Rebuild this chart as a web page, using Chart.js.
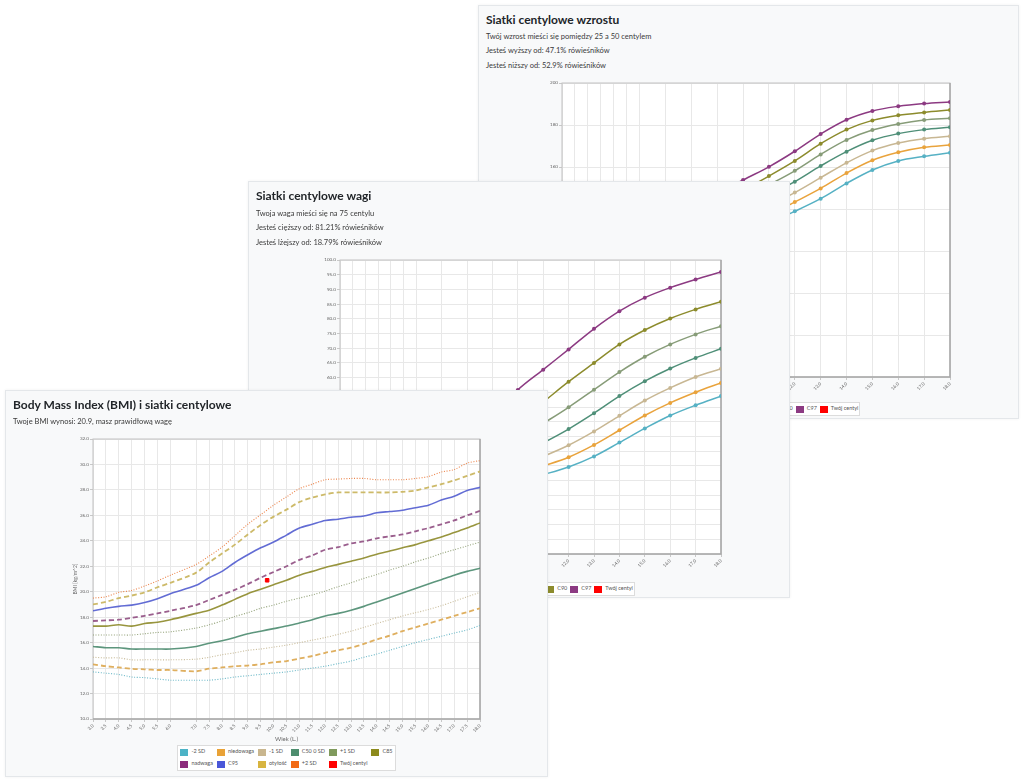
<!DOCTYPE html>
<html lang="pl">
<head>
<meta charset="utf-8">
<title>Siatki centylowe</title>
<script src="https://cdn.jsdelivr.net/npm/chart.js@4.4.1/dist/chart.umd.min.js"></script>
<style>
  body { margin: 0; background: #fff; font-family: Lato, "Liberation Sans", sans-serif; color: #212529; }
  #page { position: relative; width: 1024px; height: 780px; overflow: hidden; }
  .card { position: absolute; background: #f8f9fa; border: 1px solid #e4e7ea; box-shadow: 0 0 3px rgba(0,0,0,0.06); box-sizing: border-box; }
  .card h3 { position: absolute; left: 7px; top: 6px; margin: 0; font-size: 12px; font-weight: 700; line-height: 15px; white-space: nowrap; }
  .card p { position: absolute; left: 7px; margin: 0; font-size: 7.5px; line-height: 10px; color: #3a3a3a; white-space: nowrap; }
  .card canvas { position: absolute; }
  .legend { position: absolute; line-height: 0; }
  .legend table { margin: 0 auto; border-collapse: collapse; background: #fff; border: 1px solid #dcdcdc; font-size: 5.5px; line-height: 7px; color: #555; }
  .legend td { height: 12px; padding: 0 2px 0 2px; white-space: nowrap; text-align: left; vertical-align: middle; }
  .legend .sw { display: inline-block; width: 8px; height: 7px; margin-right: 3px; vertical-align: middle; }
  .legend.row td { padding: 0 1px 0 2px; }
</style>
</head>
<body>
<div id="page">
  <div class="card" style="left:478px;top:5px;width:541px;height:414px;z-index:1">
    <h3>Siatki centylowe wzrostu</h3>
    <p style="top:26px">Twój wzrost mieści się pomiędzy 25 a 50 centylem</p>
    <p style="top:40px">Jesteś wyższy od: 47.1% rówieśników</p>
    <p style="top:55px">Jesteś niższy od: 52.9% rówieśników</p>
    <canvas id="chartH"></canvas>
    <div class="legend row" id="legendH"></div>
  </div>
  <div class="card" style="left:248px;top:181px;width:542px;height:417px;z-index:2">
    <h3>Siatki centylowe wagi</h3>
    <p style="top:27px">Twoja waga mieści się na 75 centylu</p>
    <p style="top:41px">Jesteś cięższy od: 81.21% rówieśników</p>
    <p style="top:56px">Jesteś lżejszy od: 18.79% rówieśników</p>
    <canvas id="chartW"></canvas>
    <div class="legend row" id="legendW"></div>
  </div>
  <div class="card" style="left:5px;top:390px;width:543px;height:387px;z-index:3">
    <h3>Body Mass Index (BMI) i siatki centylowe</h3>
    <p style="top:26px">Twoje BMI wynosi: 20.9, masz prawidłową wagę</p>
    <canvas id="chartB"></canvas>
    <div class="legend" id="legendB"></div>
  </div>
</div>
<script>
// ages (years)
const agesBmi = [3,3.5,4,4.5,5,5.5,6,7,7.5,8,8.5,9,9.5,10,10.5,11,11.5,12,12.5,13,13.5,14,14.5,15,15.5,16,16.5,17,17.5,18];
const agesGrowth = [3,3.5,4,4.5,5,5.5,6,7,8,9,10,11,12,13,14,15,16,17,18];

// BMI [kg/m^2]
const bmiMinus2 = [13.7,13.6,13.5,13.3,13.25,13.15,13.05,13.05,13.05,13.15,13.3,13.4,13.5,13.6,13.7,13.85,14.0,14.15,14.35,14.55,14.85,15.1,15.4,15.7,16.0,16.25,16.5,16.75,17.0,17.35];
const bmiUnder = [14.3,14.15,14.05,13.95,13.9,13.85,13.85,13.75,13.95,14.05,14.15,14.2,14.3,14.45,14.55,14.75,14.95,15.2,15.4,15.6,15.9,16.25,16.55,16.9,17.2,17.5,17.8,18.1,18.4,18.7];
const bmiMinus1 = [14.85,14.8,14.8,14.65,14.65,14.65,14.65,14.7,14.85,15.05,15.2,15.4,15.5,15.65,15.8,16.0,16.2,16.4,16.65,16.9,17.2,17.5,17.8,18.1,18.35,18.6,18.9,19.25,19.6,19.95];
const bmiC50 = [15.7,15.6,15.6,15.5,15.5,15.5,15.5,15.7,15.95,16.15,16.4,16.7,16.9,17.1,17.3,17.55,17.8,18.1,18.3,18.55,18.85,19.2,19.55,19.9,20.25,20.6,20.95,21.3,21.6,21.85];
const bmiPlus1 = [16.6,16.6,16.6,16.6,16.7,16.8,16.85,17.15,17.4,17.7,18.05,18.35,18.7,18.95,19.25,19.5,19.75,20.05,20.4,20.7,21.05,21.35,21.7,22.0,22.35,22.65,23.0,23.3,23.6,23.9];
const bmiC85 = [17.3,17.3,17.4,17.3,17.5,17.6,17.8,18.3,18.55,18.95,19.4,19.85,20.2,20.55,20.9,21.3,21.6,21.9,22.15,22.4,22.65,22.95,23.2,23.45,23.7,24.0,24.3,24.65,25.0,25.4];
const bmiOver = [17.7,17.75,17.8,17.95,18.1,18.3,18.5,18.95,19.35,19.75,20.15,20.6,21.1,21.55,22.0,22.5,22.85,23.3,23.5,23.8,23.95,24.2,24.35,24.5,24.75,25.0,25.3,25.6,26.0,26.35];
const bmiC95 = [18.5,18.7,18.85,18.95,19.15,19.45,19.85,20.5,21.1,21.6,22.3,22.9,23.45,23.9,24.45,25.0,25.3,25.6,25.7,25.85,25.95,26.2,26.3,26.4,26.6,26.8,27.2,27.5,27.95,28.2];
const bmiObese = [19.0,19.2,19.5,19.7,19.95,20.35,20.7,21.5,22.3,23.0,23.7,24.5,25.25,25.9,26.45,27.05,27.4,27.65,27.8,27.8,27.8,27.8,27.8,27.85,27.95,28.2,28.45,28.75,29.1,29.45];
const bmiPlus2 = [19.5,19.6,19.95,20.1,20.45,20.85,21.3,22.15,22.8,23.5,24.4,25.3,26.05,26.8,27.45,28.1,28.45,28.8,28.85,28.9,28.9,28.8,28.8,28.8,28.9,29.05,29.4,29.6,30.1,30.3];
const bmiUser = [{ x: 9.75, y: 20.9 }];

// weight [kg]
const wC3 = [11.9,12.7,13.4,14.2,15.0,15.8,16.7,18.5,20.4,22.5,24.7,27.0,29.6,33.2,37.9,42.7,47.1,50.6,53.7];
const wC10 = [12.7,13.5,14.3,15.1,16.0,16.9,17.9,19.9,22.1,24.5,27.1,29.9,32.9,37.1,42.1,47.1,51.4,55.0,58.2];
const wC25 = [13.5,14.4,15.3,16.2,17.2,18.2,19.2,21.5,24.0,26.8,29.8,33.2,37.0,41.7,47.0,52.2,56.5,60.2,63.0];
const wC50 = [14.5,15.4,16.4,17.4,18.5,19.6,20.8,23.4,26.4,29.8,33.5,37.8,42.5,47.9,53.7,58.8,63.1,66.7,69.8];
const wC75 = [15.7,16.8,17.9,19.1,20.3,21.6,23.1,26.3,30.0,34.2,39.0,44.4,49.9,55.9,61.9,67.1,71.3,74.7,77.5];
const wC90 = [16.6,17.8,19.0,20.3,21.6,23.2,25.0,29.0,33.8,39.2,45.0,51.7,58.6,65.0,71.3,76.2,80.1,83.2,85.8];
const wC97 = [18.0,19.4,20.8,22.3,24.0,25.8,28.0,33.0,39.0,46.5,55.8,62.7,69.6,76.6,82.6,87.2,90.6,93.4,95.9];
const wUser = [{ x: 9.75, y: 39.2 }];

// height [cm]
const hC3 = [89.0,92.0,95.0,98.0,101.0,104.0,107.0,113.0,118.5,123.5,128.5,133.5,138.9,144.9,152.2,158.6,162.9,165.1,166.8];
const hC10 = [91.0,94.5,97.5,100.5,103.5,106.5,109.5,115.5,121.0,126.5,131.5,137.0,143.3,149.8,157.1,163.2,167.0,169.4,170.5];
const hC25 = [93.5,97.0,100.0,103.5,106.5,110.0,113.0,119.5,125.0,130.5,136.0,141.5,147.8,154.9,162.0,167.8,171.4,173.5,174.6];
const hC50 = [96.5,100.0,103.5,107.0,110.5,114.0,117.0,123.5,129.5,135.0,140.5,146.5,153.0,160.5,167.3,172.7,175.9,177.8,178.9];
const hC75 = [99.5,103.0,106.5,110.0,113.5,117.0,120.5,127.0,133.0,139.0,145.0,151.5,158.2,166.0,172.9,177.6,180.5,182.4,183.2];
const hC90 = [102.0,105.5,109.0,112.5,116.0,119.5,123.0,130.0,136.5,142.5,149.0,155.7,162.9,171.1,177.8,182.2,184.6,186.0,187.1];
const hC97 = [104.5,108.0,111.5,115.0,118.5,122.0,126.0,133.0,140.0,147.0,153.8,160.1,167.5,175.7,182.5,186.7,188.9,190.2,191.0];
const hUser = [{ x: 9.75, y: 137 }];

const centileLabels = ["C3", "C10", "C25", "C50", "C75", "C90", "C97"];
const centileColors = ["#56b1c4", "#e9a33c", "#c8b793", "#4f8f78", "#879c78", "#8c8b2c", "#8c3a82"];
const userColor = "#ff0000";

Chart.defaults.font.family = 'Lato, "Liberation Sans", sans-serif';
Chart.defaults.font.size = 4.6;
Chart.defaults.color = "#666";

// white plot area with a grey frame
const plotFrame = {
  id: "plotFrame",
  beforeDraw(chart) {
    const { ctx, chartArea: a } = chart;
    ctx.save();
    ctx.fillStyle = "#fff";
    ctx.fillRect(a.left, a.top, a.right - a.left, a.bottom - a.top);
    ctx.restore();
  },
  beforeDatasetsDraw(chart) {
    const { ctx, chartArea: a } = chart;
    ctx.save();
    ctx.strokeStyle = "#c2c2c2";
    ctx.lineWidth = 1;
    ctx.strokeRect(a.left, a.top, a.right - a.left, a.bottom - a.top);
    ctx.strokeStyle = "#a9a9a9";
    ctx.lineWidth = 1.5;
    ctx.beginPath();
    ctx.moveTo(a.left, a.bottom);
    ctx.lineTo(a.right, a.bottom);
    ctx.lineTo(a.right, a.top);
    ctx.stroke();
    ctx.restore();
  }
};

function toPoints(ages, vals) {
  return ages.map((a, i) => ({ x: a, y: vals[i] }));
}

function fade(hex, alpha) {
  const n = parseInt(hex.slice(1), 16);
  return "rgba(" + (n >> 16) + "," + ((n >> 8) & 255) + "," + (n & 255) + "," + alpha + ")";
}

function makeChart(id, box, ages, datasets, y, yTitle) {
  const canvas = document.getElementById(id);
  const yW = 22, padTop = 6, padRight = 8, xH = 26;
  const w = box.right - box.left + yW + padRight;
  const h = box.bottom - box.top + padTop + xH;
  canvas.width = w;
  canvas.height = h;
  canvas.style.width = w + "px";
  canvas.style.height = h + "px";
  canvas.style.left = (box.left - yW) + "px";
  canvas.style.top = (box.top - padTop) + "px";

  return new Chart(canvas, {
    type: "line",
    data: { datasets: datasets },
    options: {
      responsive: false,
      animation: false,
      layout: { padding: { top: padTop, right: padRight, left: 0, bottom: 0 } },
      plugins: { legend: { display: false }, tooltip: { enabled: false } },
      scales: {
        x: {
          type: "linear",
          min: 3,
          max: 18,
          afterBuildTicks: (s) => { s.ticks = ages.map(v => ({ value: v })); },
          afterFit: (s) => { s.height = xH; },
          ticks: { autoSkip: false, minRotation: 45, maxRotation: 45, padding: 1, callback: v => Number(v).toFixed(1) },
          grid: { color: "#e8e8e8", tickColor: "#c8c8c8", tickLength: 3 },
          border: { display: false },
          title: { display: true, text: "Wiek (L.)", font: { size: 6 }, padding: { top: 0, bottom: 2 } }
        },
        y: {
          min: y.min,
          max: y.max,
          afterFit: (s) => { s.width = yW; },
          ticks: { stepSize: y.step, padding: 1, callback: v => y.decimals ? Number(v).toFixed(1) : String(v) },
          grid: { color: "#e8e8e8", tickColor: "#c8c8c8", tickLength: 3 },
          border: { display: false },
          title: { display: true, text: yTitle, font: { size: 5 }, padding: { top: 1, bottom: 0 } }
        }
      }
    },
    plugins: [plotFrame]
  });
}

function legendTable(id, box, top, items, perRow) {
  const el = document.getElementById(id);
  el.style.left = box.left + "px";
  el.style.width = (box.right - box.left) + "px";
  el.style.top = top + "px";
  let html = "<table><tr>";
  items.forEach((it, i) => {
    if (i && i % perRow === 0) html += "</tr><tr>";
    html += '<td><span class="sw" style="background:' + it.color + '"></span>' + it.label + "</td>";
  });
  html += "</tr></table>";
  el.innerHTML = html;
}

function centileSets(values, user) {
  const sets = values.map((vals, i) => ({
    label: centileLabels[i],
    data: toPoints(agesGrowth, vals),
    borderColor: centileColors[i],
    backgroundColor: centileColors[i],
    borderWidth: 1.5,
    pointRadius: 2,
    pointBorderWidth: 0,
    tension: 0.35
  }));
  sets.push({
    label: "Twój centyl",
    data: user,
    showLine: false,
    pointStyle: "rect",
    pointRadius: 2.5,
    backgroundColor: userColor,
    borderColor: userColor
  });
  return sets;
}

// height
const boxH = { left: 83, top: 77, right: 471, bottom: 371 };
const setsH = centileSets([hC3, hC10, hC25, hC50, hC75, hC90, hC97], hUser);
makeChart("chartH", boxH, agesGrowth, setsH, { min: 60, max: 200, step: 20, decimals: false }, "Wzrost [cm]");
legendTable("legendH", boxH, 396, setsH.map(d => ({ label: d.label, color: d.backgroundColor })), 8);

// weight
const boxW = { left: 91, top: 78, right: 472, bottom: 372 };
const setsW = centileSets([wC3, wC10, wC25, wC50, wC75, wC90, wC97], wUser);
makeChart("chartW", boxW, agesGrowth, setsW, { min: 0, max: 100, step: 5, decimals: true }, "Waga [kg]");
legendTable("legendW", boxW, 400, setsW.map(d => ({ label: d.label, color: d.backgroundColor })), 8);

// BMI
const bmiLabels = ["-2 SD", "niedowaga", "-1 SD", "C50 0 SD", "+1 SD", "C85", "nadwaga", "C95", "otyłość", "+2 SD"];
const bmiColors = ["#4cb3c6", "#e9a236", "#c9b68e", "#4d8d6e", "#7f9a5c", "#8c8a1c", "#8c2c7c", "#4a57d8", "#d8b43f", "#f26a14"];
const bmiLineColors = ["#5fb3c3", "#dca851", "#c3b590", "#4f8d72", "#8a9a6e", "#8f8c2e", "#915083", "#5560d0", "#c9b45c", "#ea7a3c"];
const bmiStyles = ["dot", "dash", "dot", "solid", "dot", "solid", "dash", "solid", "dash", "dot"];
const bmiValues = [bmiMinus2, bmiUnder, bmiMinus1, bmiC50, bmiPlus1, bmiC85, bmiOver, bmiC95, bmiObese, bmiPlus2];

const setsB = bmiValues.map((vals, i) => {
  const st = bmiStyles[i];
  return {
    label: bmiLabels[i],
    data: toPoints(agesBmi, vals),
    borderColor: fade(bmiLineColors[i], 0.92),
    backgroundColor: bmiColors[i],
    borderWidth: st === "dot" ? 1.1 : (st === "dash" ? 1.8 : 1.6),
    borderDash: st === "dot" ? [1, 1.6] : (st === "dash" ? [5, 3] : []),
    pointRadius: 0,
    tension: 0.3
  };
});
setsB.push({
  label: "Twój centyl",
  data: bmiUser,
  showLine: false,
  pointStyle: "rect",
  pointRadius: 2.5,
  backgroundColor: userColor,
  borderColor: userColor
});
const boxB = { left: 87, top: 48, right: 474, bottom: 328 };
makeChart("chartB", boxB, agesBmi, setsB, { min: 10, max: 32, step: 2, decimals: true }, "BMI [kg/m^2]");
legendTable("legendB", boxB, 354, setsB.map(d => ({ label: d.label, color: d.backgroundColor })), 6);
</script>
</body>
</html>
